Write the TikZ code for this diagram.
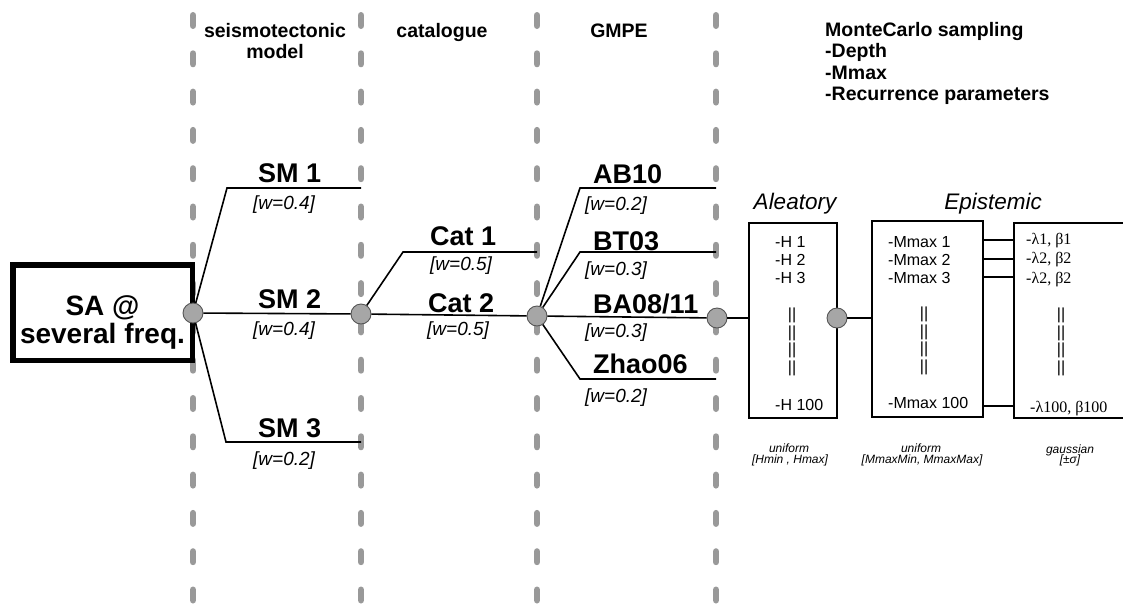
\documentclass[tikz,border=0pt]{standalone}
\usepackage{fontspec}
\setmainfont{Liberation Sans}
\newfontfamily\serifrm{Liberation Serif}
\definecolor{dashgray}{HTML}{999999}
\definecolor{nodegray}{HTML}{A6A6A6}
\definecolor{nodeborder}{HTML}{555555}
\tikzset{
  vdash/.style={draw=dashgray, line width=6.5pt, line cap=round, dash pattern=on 10.5pt off 27.8pt},
  branch/.style={draw=black, line width=1.6pt},
  conn/.style={draw=black, line width=2pt},
  bnode/.style={circle, fill=nodegray, draw=nodeborder, line width=0.9pt, minimum size=20pt, inner sep=0pt},
  sabox/.style={draw=black, fill=white, line width=5.5pt, minimum width=179.5pt, minimum height=95.5pt, inner sep=0pt},
  satxt/.style={font=\fontsize{28}{30}\selectfont\bfseries, anchor=base, inner sep=0pt},
  lbl/.style={font=\fontsize{27}{30}\selectfont\bfseries, anchor=base west, inner sep=0pt},
  wlbl/.style={font=\fontsize{19}{21}\selectfont\itshape, anchor=base west, inner sep=0pt},
  hdr/.style={font=\fontsize{19.5}{21}\selectfont\bfseries, anchor=base, inner sep=0pt},
  hdrl/.style={font=\fontsize{19.5}{21}\selectfont\bfseries, anchor=base west, inner sep=0pt},
  ubox/.style={draw=black, line width=2pt, inner sep=0pt},
  ttl/.style={font=\fontsize{22.5}{25}\selectfont\itshape, anchor=base, inner sep=0pt},
  itm/.style={font=\fontsize{16}{18}\selectfont, anchor=base west, inner sep=0pt},
  itms/.style={font=\fontsize{16}{18}\selectfont\serifrm, anchor=base west, inner sep=0pt},
  bar/.style={font=\fontsize{16}{18}\selectfont, anchor=base, inner sep=0pt},
  bot/.style={font=\fontsize{12}{13}\selectfont\itshape, anchor=base, inner sep=0pt},
}
\begin{document}
\begin{tikzpicture}[x=1pt,y=-1pt]
\useasboundingbox (0,0) rectangle (1123,605);
% column separators
\foreach \x/\n in {193/a,361/b,537/c,716/d}{
  \coordinate (top\n) at (\x,15.25);
  \coordinate (bot\n) at (\x,610);
  \draw[vdash] (top\n) -- (bot\n);
}
% headers
\node[hdr] (hsm) at (275,37) {seismotectonic};
\node[hdr] (hsmb) at (275,58) {model};
\node[hdr] (hcat) at (442,37) {catalogue};
\node[hdr] (hgm) at (619,37) {GMPE};
\node[hdrl] (mc1) at (825,36) {MonteCarlo sampling};
\node[hdrl] (mc2) at (825,57) {-Depth};
\node[hdrl] (mc3) at (825,79) {-Mmax};
\node[hdrl] (mc4) at (825,100) {-Recurrence parameters};
% SA box
\node[sabox] (sa) at (102.5,312.5) {};
\node[satxt] (sa1) at (102.5,315) {SA @};
\node[satxt] (sa2) at (102.5,343) {several freq.};
% uncertainty boxes
\node[ubox, minimum width=88pt, minimum height=195pt] (ale) at (793,320.5) {};
\node[ubox, minimum width=111pt, minimum height=196pt] (mm) at (927.5,319) {};
\node[ubox, minimum width=126pt, minimum height=195pt] (ga) at (1077,320.5) {};
% branch nodes
\node[bnode] (n0) at (193,313) {};
\node[bnode] (n1) at (361,314) {};
\node[bnode] (n2) at (537,316) {};
\node[bnode] (n3) at (717,318) {};
\node[bnode] (n4) at (837,318) {};
% bend and end points
\coordinate (k11) at (227,188); \coordinate (e11) at (361,188);
\coordinate (k13) at (226,442); \coordinate (e13) at (361,442);
\coordinate (k21) at (403,252); \coordinate (e21) at (537,252);
\coordinate (k31) at (580,188); \coordinate (e31) at (716,188);
\coordinate (k32) at (580,252); \coordinate (e32) at (716,252);
\coordinate (k34) at (580,379); \coordinate (e34) at (716,379);
\draw[branch] (n0) -- (k11) -- (e11);
\draw[branch] (n0) -- (n1);
\draw[branch] (n0) -- (k13) -- (e13);
\draw[branch] (n1) -- (k21) -- (e21);
\draw[branch] (n1) -- (n2);
\draw[branch] (n2) -- (k31) -- (e31);
\draw[branch] (n2) -- (k32) -- (e32);
\draw[branch] (n2) -- (n3);
\draw[branch] (n2) -- (k34) -- (e34);
\draw[conn] (n3) -- (n3 -| ale.west);
\draw[conn] (n4) -- (n4 -| mm.west);
% branch labels
\node[lbl] (sm1) at (258,182) {SM 1};
\node[wlbl] (w11) at (253,209) {[w=0.4]};
\node[lbl] (sm2) at (258,308) {SM 2};
\node[wlbl] (w12) at (253,335) {[w=0.4]};
\node[lbl] (sm3) at (258,437) {SM 3};
\node[wlbl] (w13) at (253,465) {[w=0.2]};
\node[lbl] (c1) at (430,245) {Cat 1};
\node[wlbl] (w21) at (430,270) {[w=0.5]};
\node[lbl] (c2) at (428,312) {Cat 2};
\node[wlbl] (w22) at (427,335) {[w=0.5]};
\node[lbl] (g1) at (593,183) {AB10};
\node[wlbl] (w31) at (585,210) {[w=0.2]};
\node[lbl] (g2) at (593,250) {BT03};
\node[wlbl] (w32) at (585,275) {[w=0.3]};
\node[lbl] (g3) at (593,313) {BA08/11};
\node[wlbl] (w33) at (585,337) {[w=0.3]};
\node[lbl] (g4) at (593,373) {Zhao06};
\node[wlbl] (w34) at (585,402) {[w=0.2]};
% titles
\node[ttl] (tA) at (795,209) {Aleatory};
\node[ttl] (tE) at (993,209) {Epistemic};
% box contents
\node[itm] (hh1) at (775,247) {-H 1};
\node[itm] (hh2) at (775,265) {-H 2};
\node[itm] (hh3) at (775,283) {-H 3};
\node[itm] (hh4) at (775,410) {-H 100};
\node[itm] (mx1) at (888,247) {-Mmax 1};
\node[itm] (mx2) at (888,265) {-Mmax 2};
\node[itm] (mx3) at (888,283) {-Mmax 3};
\node[itm] (mx4) at (888,408) {-Mmax 100};
\node[itms] (lb1) at (1026,244) {-λ1, β1};
\node[itms] (lb2) at (1026,263) {-λ2, β2};
\node[itms] (lb3) at (1026,283) {-λ2, β2};
\node[itms] (lb4) at (1030,412) {-λ100, β100};
\foreach \i in {0,...,3}{
  \node[bar] (ba\i) at (792,{319.5+17.5*\i}) {||};
  \node[bar] (bm\i) at (924,{318.5+17.5*\i}) {||};
  \node[bar] (bg\i) at (1061,{319.5+17.5*\i}) {||};
}
% connections between Mmax and gaussian boxes
\coordinate (y1) at (0,240);
\coordinate (y2) at (0,259);
\coordinate (y3) at (0,277);
\coordinate (y4) at (0,406);
\foreach \c in {y1,y2,y3,y4}{
  \draw[conn] (\c -| mm.east) -- (\c -| ga.west);
}
% distributions
\node[bot] (u1) at (789,452) {uniform};
\node[bot] (u1b) at (790,463) {[Hmin , Hmax]};
\node[bot] (u2) at (921,452) {uniform};
\node[bot] (u2b) at (922,463) {[MmaxMin, MmaxMax]};
\node[bot] (u3) at (1070,453) {gaussian};
\node[bot] (u3b) at (1070,463) {[±σ]};
\end{tikzpicture}
\end{document}
